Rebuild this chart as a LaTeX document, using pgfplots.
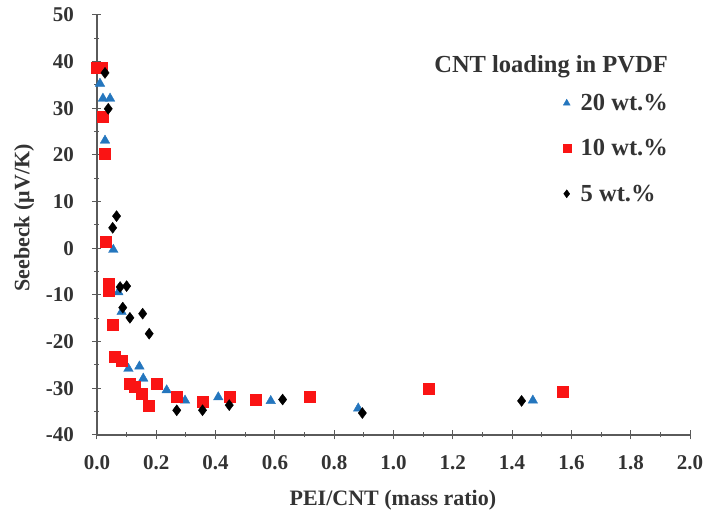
\documentclass[border=0pt]{standalone}
\usepackage{fontspec}
\setmainfont{Liberation Serif}
\usepackage{pgfplots}
\pgfplotsset{compat=1.18}
\usetikzlibrary{calc}
\definecolor{triblue}{RGB}{36,118,190}
\definecolor{sqred}{RGB}{250,20,20}
\definecolor{axgray}{RGB}{90,90,90}

\begin{document}
\begin{tikzpicture}
\begin{axis}[
  scale only axis, width=593pt, height=420pt,
  xmin=0, xmax=2, ymin=-40, ymax=50,
  xtick={0,0.2,...,2.0}, ytick={-40,-30,...,50},
  minor tick num=1,
  axis lines=left, axis line style={axgray, line width=1.3pt, -},
  tick align=center, major tick length=9pt, minor tick length=5pt,
  every tick/.style={axgray, line width=1pt},
  /pgf/number format/assume math mode=true,
  xticklabel style={/pgf/number format/fixed, /pgf/number format/fixed zerofill, /pgf/number format/precision=1, yshift=-13pt},
  yticklabel style={xshift=-15pt},
  tick label style={font=\fontsize{21}{24}\selectfont\bfseries, text=black!80},
  xlabel={PEI/CNT (mass ratio)}, ylabel={Seebeck (μV/K)},
  xlabel style={at={(axis description cs:0.499,-0.1548)}, anchor=center,
    font=\fontsize{22}{26}\selectfont\bfseries, text=black!80},
  ylabel style={at={(axis description cs:-0.1231,0.5167)}, anchor=center,
    font=\fontsize{22}{26}\selectfont\bfseries, text=black!80},
  clip=false,
  legend cell align=left,
  legend image post style={mark size=4pt},
  legend style={draw=none, fill=none, at={(axis cs:1.56,33.9)}, anchor=north west,
    font=\fontsize{24.5}{28}\selectfont\bfseries, text=black!80, row sep=23.5pt,
    column sep=8pt},
]
\addplot[only marks, mark=triangle*, mark size=5.5pt, color=triblue] coordinates {
(0.01,35.3) (0.02,32.1) (0.044,32.1) (0.027,23.1) (0.055,-0.3) (0.072,-9.4)
(0.083,-13.6) (0.106,-25.8) (0.143,-25.3) (0.156,-27.9) (0.235,-30.4) (0.297,-32.6)
(0.409,-31.9) (0.586,-32.7) (0.881,-34.3) (1.47,-32.6)};
\addlegendentry{20 wt.\%}
\addplot[only marks, mark=square*, mark size=5.5pt, color=sqred] coordinates {
(0.0,38.6) (0.016,38.8) (0.019,28.1) (0.027,20.3) (0.03,1.4) (0.038,-7.6) (0.038,-9.0)
(0.053,-16.4) (0.061,-23.3) (0.083,-24.0) (0.109,-29.0) (0.128,-29.7) (0.151,-31.1)
(0.176,-33.8) (0.201,-29.0) (0.269,-31.9) (0.356,-32.9) (0.446,-31.9) (0.536,-32.4)
(0.716,-31.9) (1.12,-30.1) (1.569,-30.8)};
\addlegendentry{10 wt.\%}
\addplot[only marks, mark=diamond*, mark size=5.5pt, color=black] coordinates {
(0.027,37.6) (0.038,29.9) (0.066,6.9) (0.053,4.4) (0.078,-8.3) (0.1,-8.1) (0.087,-12.7)
(0.111,-14.9) (0.154,-14.0) (0.176,-18.3) (0.269,-34.7) (0.356,-34.7) (0.446,-33.6)
(0.626,-32.4) (0.895,-35.3) (1.432,-32.7)};
\addlegendentry{5 wt.\%}
\node[anchor=east, font=\fontsize{24.5}{28}\selectfont\bfseries, text=black!80] at (axis cs:1.937,39.0) {CNT loading in PVDF};
\end{axis}
\pgfresetboundingbox
\path (current axis.south west) ++(-97pt,-83pt) rectangle ($(current axis.north east)+(20pt,15pt)$);
\end{tikzpicture}
\end{document}
